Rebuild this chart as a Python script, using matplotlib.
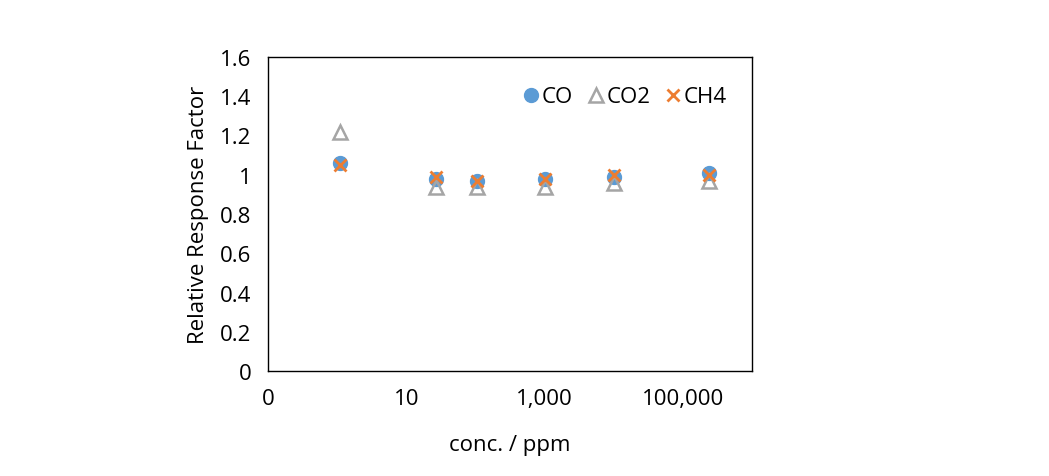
import matplotlib
matplotlib.use("Agg")
import matplotlib.pyplot as plt
from matplotlib.ticker import FixedLocator, FixedFormatter, NullLocator

plt.rcParams['font.family'] = ['Open Sans', 'DejaVu Sans']

conc = [1.1, 27, 105, 1000, 10000, 240000]
co = [1.06, 0.98, 0.97, 0.98, 0.99, 1.01]
co2 = [1.22, 0.94, 0.94, 0.94, 0.96, 0.97]
ch4 = [1.05, 0.99, 0.97, 0.98, 1.00, 1.00]
xticks = [0.1, 10, 1000, 100000]
xlabels = ["0", "10", "1,000", "100,000"]

fig = plt.figure(figsize=(10.49, 4.77), dpi=100)
ax = fig.add_axes([268/1049, 1-372/477, (752-268)/1049, (372-58)/477])
ax.plot(conc, co, 'o', color='#5B9BD5', markersize=10, label='CO', linestyle='none')
ax.plot(conc, co2, '^', markerfacecolor='none', markeredgecolor='#A5A5A5', markeredgewidth=1.8, markersize=10, label='CO2', linestyle='none')
ax.plot(conc, ch4, 'x', color='#ED7D31', markeredgewidth=2, markersize=9, label='CH4', linestyle='none')
ax.set_xscale('log')
ax.set_xlim(0.1, 1e6)
ax.set_ylim(0, 1.6)
ax.xaxis.set_major_locator(FixedLocator(xticks))
ax.xaxis.set_major_formatter(FixedFormatter(xlabels))
ax.xaxis.set_minor_locator(NullLocator())
ax.set_yticks([0, 0.2, 0.4, 0.6, 0.8, 1, 1.2, 1.4, 1.6])
ax.set_yticklabels(["0", "0.2", "0.4", "0.6", "0.8", "1", "1.2", "1.4", "1.6"])
ax.tick_params(length=0, labelsize=16, pad=12)
for s in ax.spines.values():
    s.set_linewidth(1.0)
ax.set_xlabel("conc. / ppm", fontsize=16, labelpad=18)
ax.set_ylabel("Relative Response Factor", fontsize=16, labelpad=8)
ax.legend(loc='upper right', ncol=3, frameon=False, fontsize=16, handletextpad=-0.2,
          columnspacing=0.3, handlelength=1.4, bbox_to_anchor=(0.99, 0.97))
fig.savefig("out.png", dpi=100)
